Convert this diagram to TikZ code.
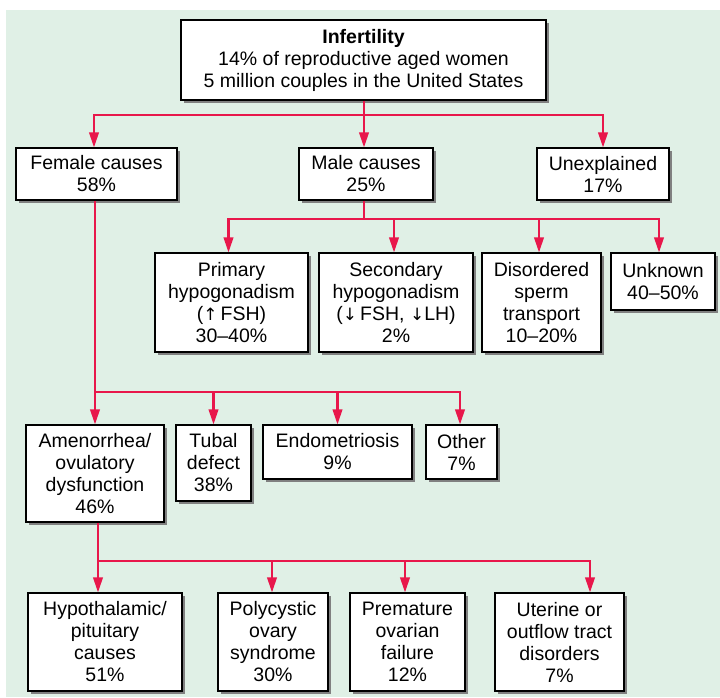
\documentclass[tikz,border=0pt]{standalone}
\usepackage{fontspec}
\setmainfont{Liberation Sans}
\newfontfamily\arrowfont{DejaVu Sans}
\usetikzlibrary{arrows.meta,shadows}
\definecolor{bgc}{RGB}{224,240,230}
\definecolor{connc}{RGB}{232,23,75}
\newcommand{\upar}{{\arrowfont\fontsize{17}{21}\selectfont ↑}}
\newcommand{\downar}{{\arrowfont\fontsize{17}{21}\selectfont ↓}}
\tikzset{
  box/.style={draw=black, line width=1.1pt, fill=white, align=center, inner sep=0pt,
    font=\fontsize{19.5}{22}\selectfont,
    general shadow={fill=black!50, shadow xshift=2.6pt, shadow yshift=-2.6pt}},
  link/.style={draw=connc, line width=2.2pt},
  arr/.style={link, -{Triangle[length=15pt,width=9.5pt]}},
}
\begin{document}
\begin{tikzpicture}[x=1pt,y=-1pt]
\useasboundingbox (0,0) rectangle (720,697);
\fill[white] (0,0) rectangle (720,697);
\fill[bgc] (6,10) rectangle (720,697);

% level 0
\node[box, minimum width=365pt, minimum height=80pt] (inf) at (363.5,60)
  {\textbf{Infertility}\\14\% of reproductive aged women\\5 million couples in the United States};

% level 1
\node[box, minimum width=161pt, minimum height=52pt] (fem) at (96.5,174) {Female causes\\58\%};
\node[box, minimum width=134pt, minimum height=52pt] (mal) at (366,174) {Male causes\\25\%};
\node[box, minimum width=132pt, minimum height=52pt] (une) at (603,174) {Unexplained\\17\%};

% male row
\node[box, minimum width=153pt, minimum height=99pt] (prim) at (231.5,302.5) {Primary\\hypogonadism\\(\upar\,FSH)\\30--40\%};
\node[box, minimum width=154pt, minimum height=99pt] (sec) at (396,302.5) {Secondary\\hypogonadism\\(\downar\,FSH, \downar LH)\\2\%};
\node[box, minimum width=119pt, minimum height=99pt] (dis) at (541.5,302.5) {Disordered\\sperm\\transport\\10--20\%};
\node[box, minimum width=104pt, minimum height=57pt] (unk) at (663,281.5) {Unknown\\40--50\%};

% female row
\node[box, minimum width=138pt, minimum height=97pt] (amen) at (95,473.5) {Amenorrhea/\\ovulatory\\dysfunction\\46\%};
\node[box, minimum width=75pt, minimum height=76pt] (tub) at (213.5,463) {Tubal\\defect\\38\%};
\node[box, minimum width=149pt, minimum height=54pt] (endo) at (337.5,452) {Endometriosis\\9\%};
\node[box, minimum width=71pt, minimum height=54pt] (oth) at (461.5,452) {Other\\7\%};

% bottom row
\node[box, minimum width=154pt, minimum height=98pt] (hyp) at (105,642) {Hypothalamic/\\pituitary\\causes\\51\%};
\node[box, minimum width=110pt, minimum height=98pt] (poly) at (273,642) {Polycystic\\ovary\\syndrome\\30\%};
\node[box, minimum width=115pt, minimum height=98pt] (prem) at (407.5,642) {Premature\\ovarian\\failure\\12\%};
\node[box, minimum width=129pt, minimum height=98pt] (ute) at (559.5,642) {Uterine or\\outflow tract\\disorders\\7\%};

% junctions
\coordinate (j1) at (364,115);
\coordinate (j2) at (364,219);
\coordinate (j3) at (95,392);
\coordinate (j4) at (98,561);
\coordinate (u1) at (590,561);

% connectors
\draw[link] (inf.south -| j1) -- (j1);
\draw[arr] (j1) -| ([xshift=-2.5pt]fem.north);
\draw[arr] (j1) -- (j1 |- mal.north);
\draw[arr] (j1) -| (une.north);

\draw[link] (mal.south -| j2) -- (j2);
\draw[arr] (j2) -| ([xshift=-3pt]prim.north);
\draw[arr] (j2) -| ([xshift=-2pt]sec.north);
\draw[arr] (j2) -| ([xshift=-2.5pt]dis.north);
\draw[arr] (j2) -| ([xshift=-4pt]unk.north);

\draw[link] (fem.south -| j3) -- (j3);
\draw[arr] (j3) -- (j3 |- amen.north);
\draw[arr] (j3) -| (tub.north);
\draw[arr] (j3) -| (endo.north);
\draw[arr] (j3) -| ([xshift=-1.5pt]oth.north);

\draw[link] (amen.south -| j4) -- (j4);
\draw[arr] (j4) -- (j4 |- hyp.north);
\draw[arr] (j4) -| ([xshift=-1pt]poly.north);
\draw[arr] (j4) -| ([xshift=-2.5pt]prem.north);
\draw[arr] (j4) -- (u1) -- (u1 |- ute.north);
\end{tikzpicture}
\end{document}
